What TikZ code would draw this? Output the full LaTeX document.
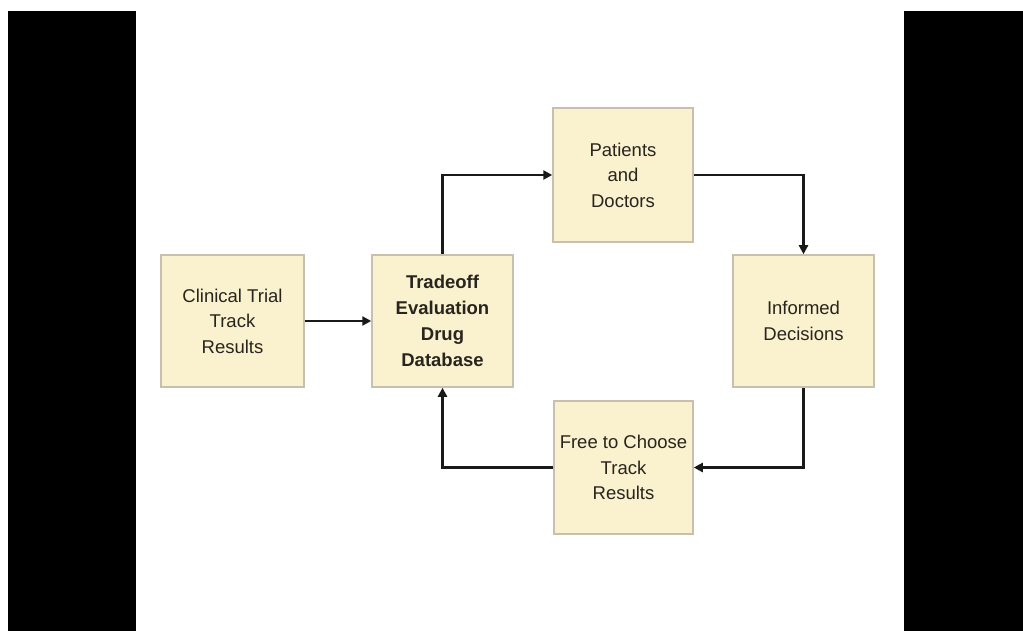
\documentclass[tikz,border=0pt]{standalone}
\usepackage{fontspec}
\setmainfont{Liberation Sans}
\usetikzlibrary{arrows.meta}
\definecolor{boxfill}{RGB}{250,241,206}
\definecolor{boxline}{RGB}{200,192,175}
\definecolor{txt}{RGB}{40,36,30}
\definecolor{arr}{RGB}{25,25,25}
\begin{document}
\begin{tikzpicture}[x=1pt,y=-1pt,
  box/.style={draw=boxline,line width=1.5pt,fill=boxfill,rectangle,inner sep=0pt,
    align=center,text=txt,font=\fontsize{18.5}{25.5}\selectfont},
  conn/.style={draw=arr,line width=2.4pt,-{Triangle[length=9pt,width=9pt]}}]
\useasboundingbox (0,0) rectangle (1023,631);
\fill[white] (0,0) rectangle (1023,631);
\fill[black] (8,11) rectangle (136,631);
\fill[black] (904,11) rectangle (1023,631);
\node[box,minimum width=143pt,minimum height=132pt] (cl) at (232.5,321) {Clinical Trial\\Track\\Results};
\node[box,minimum width=141pt,minimum height=132pt,font=\fontsize{18.5}{26}\selectfont\bfseries] (tr) at (442.5,321) {Tradeoff\\Evaluation\\Drug\\Database};
\node[box,minimum width=140pt,minimum height=134pt] (pa) at (623,175) {Patients\\and\\Doctors};
\node[box,minimum width=141pt,minimum height=132pt] (in) at (803.5,321) {Informed\\Decisions};
\node[box,minimum width=139pt,minimum height=133pt] (fr) at (623.5,467.5) {Free to Choose\\Track\\Results};
\draw[conn] (cl.east) -- (tr.west);
\draw[conn] (tr.north) |- (pa.west);
\draw[conn] (pa.east) -| (in.north);
\draw[conn] (in.south) |- (fr.east);
\draw[conn] (fr.west) -| (tr.south);
\end{tikzpicture}
\end{document}
